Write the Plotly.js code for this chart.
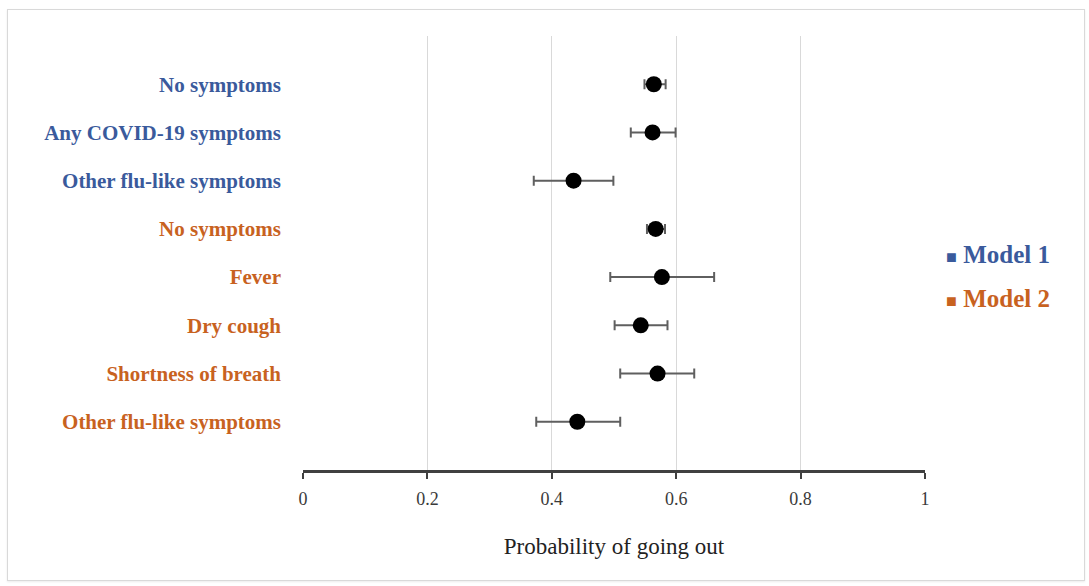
<!DOCTYPE html>
<html>
<head>
<meta charset="utf-8">
<script src="https://cdn.plot.ly/plotly-3.0.1.min.js"></script>
<style>
html,body{margin:0;padding:0;background:#fff;}
#wrap{position:relative;width:1089px;height:586px;}
#chart{position:absolute;left:0;top:0;width:1089px;height:586px;}
#frame{position:absolute;left:7px;top:9px;width:1076px;height:570px;border:1px solid #d9d9d9;box-shadow:0 1px 2px rgba(0,0,0,0.08);pointer-events:none;}
</style>
</head>
<body>
<div id="wrap"><div id="chart"></div><div id="frame"></div></div>
<script>
// Data
const labels = ["No symptoms", "Any COVID-19 symptoms", "Other flu-like symptoms",
                "No symptoms", "Fever", "Dry cough", "Shortness of breath", "Other flu-like symptoms"];
const modelOf = [1, 1, 1, 2, 2, 2, 2, 2];
const estimate = [0.564, 0.562, 0.435, 0.567, 0.577, 0.543, 0.570, 0.441];
const lower    = [0.549, 0.527, 0.371, 0.553, 0.494, 0.501, 0.510, 0.375];
const upper    = [0.583, 0.599, 0.499, 0.582, 0.661, 0.586, 0.629, 0.510];
const xTicks = [0, 0.2, 0.4, 0.6, 0.8, 1];
const xTickText = ["0", "0.2", "0.4", "0.6", "0.8", "1"];
const legendNames = ["Model 1", "Model 2"];

const colors = {1: "#3a5a9c", 2: "#c8621f"};
const rowPos = labels.map((_, i) => i);

const trace = {
  type: "scatter",
  mode: "markers",
  x: estimate,
  y: rowPos,
  marker: {color: "#000000", size: 16},
  error_x: {
    type: "data",
    symmetric: false,
    array: upper.map((u, i) => u - estimate[i]),
    arrayminus: lower.map((l, i) => estimate[i] - l),
    color: "#5f5f5f",
    thickness: 2,
    width: 5
  },
  showlegend: false,
  hoverinfo: "x+y"
};

const tickText = labels.map((t, i) => '<span style="color:' + colors[modelOf[i]] + '"><b>' + t + '</b></span>');

const annotations = legendNames.map((name, k) => ({
  xref: "paper", yref: "paper",
  x: 1.03, y: k === 0 ? 0.497 : 0.395,
  xanchor: "left", yanchor: "middle",
  showarrow: false,
  text: '<span style="font-size:18px">■</span> <b>' + name + '</b>',
  font: {family: "Liberation Serif, Times New Roman, serif", size: 25, color: colors[k + 1]}
}));

const layout = {
  width: 1089, height: 586,
  margin: {l: 303, r: 164, t: 36, b: 116},
  paper_bgcolor: "rgba(0,0,0,0)",
  plot_bgcolor: "#ffffff",
  font: {family: "Liberation Serif, Times New Roman, serif", color: "#333333"},
  xaxis: {
    range: [0, 1],
    tickvals: xTicks,
    ticktext: xTickText,
    showgrid: true,
    gridcolor: "#d9d9d9",
    gridwidth: 1,
    zeroline: false,
    showline: true,
    linecolor: "#404040",
    linewidth: 2.5,
    ticks: "outside",
    ticklen: 6,
    tickwidth: 2,
    tickcolor: "#404040",
    tickfont: {size: 18, color: "#3a3a3a"},
    ticklabelstandoff: 5,
    title: {text: "Probability of going out", font: {size: 23, color: "#222222"}, standoff: 30},
    automargin: false,
    fixedrange: true
  },
  yaxis: {
    range: [8, -1],
    tickvals: rowPos,
    ticktext: tickText,
    showgrid: false,
    zeroline: false,
    showline: false,
    ticks: "",
    tickfont: {size: 21},
    ticklabelstandoff: 21,
    automargin: false,
    fixedrange: true
  },
  annotations: annotations,
  showlegend: false
};

Plotly.newPlot("chart", [trace], layout, {displayModeBar: false, staticPlot: true});
</script>
</body>
</html>
